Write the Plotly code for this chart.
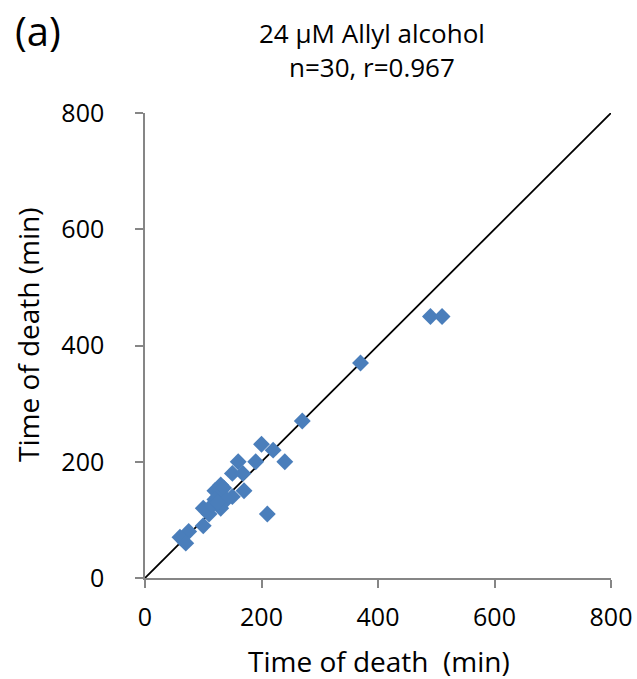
import plotly.graph_objects as go

x_vals = [270, 200, 220, 240, 190, 160, 150, 168, 170, 130, 120, 150, 130, 100, 110, 210, 100, 75, 60, 70,
          370, 490, 510, 125, 130, 135, 120, 140, 115, 125]
y_vals = [270, 230, 220, 200, 200, 200, 180, 180, 150, 160, 150, 140, 120, 120, 110, 110, 90, 80, 70, 60,
          370, 450, 450, 140, 150, 155, 135, 135, 125, 130]
line_x = [0, 800]
line_y = [0, 800]
ticks = [0, 200, 400, 600, 800]

FONT = "Open Sans"
FS_TICK = 25
FS_TEXT = 28
FS_TITLE = 26

L, R, T, B = 145, 26, 113, 101
W, H = 637, 679
PW, PH = W - L - R, H - T - B


def px(xp):
    return (xp - L) / PW


def py(yp):
    return (H - B - yp) / PH


fig = go.Figure()
fig.add_trace(go.Scatter(x=line_x, y=line_y, mode="lines",
                         line=dict(color="black", width=1.8), showlegend=False, hoverinfo="skip"))
fig.add_trace(go.Scatter(x=x_vals, y=y_vals, mode="markers",
                         marker=dict(symbol="diamond", size=13, color="#4a7ebb", line=dict(width=0)),
                         showlegend=False))

axis_common = dict(range=[0, 800], tickvals=ticks, showgrid=False, zeroline=False,
                   showline=True, linecolor="#868686", linewidth=1.5, automargin=False,
                   ticks="outside", ticklen=8, tickcolor="#868686", tickwidth=1.5,
                   tickfont=dict(family=FONT, size=FS_TICK, color="black"))

txt = dict(xref="paper", yref="paper", xanchor="center", yanchor="middle", showarrow=False, borderpad=0)

fig.update_layout(
    width=W, height=H,
    margin=dict(l=L, r=R, t=T, b=B),
    paper_bgcolor="white", plot_bgcolor="white",
    xaxis=dict(**axis_common, ticklabelstandoff=8),
    yaxis=dict(**axis_common, ticklabelstandoff=26),
    annotations=[
        dict(text="24 µM Allyl alcohol", x=px(372), y=py(32.5), **txt,
             font=dict(family=FONT, size=FS_TITLE, color="black")),
        dict(text="n=30, r=0.967", x=px(372), y=py(67.5), **txt,
             font=dict(family=FONT, size=FS_TITLE, color="black")),
        dict(text="(a)", x=px(38), y=py(30), **txt,
             font=dict(family=FONT, size=40, color="black")),
        dict(text="Time of death  (min)", x=px(379), y=py(661), **txt,
             font=dict(family=FONT, size=FS_TEXT, color="black")),
        dict(text="Time of death (min)", x=px(28), y=py(335), textangle=-90, **txt,
             font=dict(family=FONT, size=FS_TEXT, color="black")),
    ],
)

fig.write_html("out.html")
